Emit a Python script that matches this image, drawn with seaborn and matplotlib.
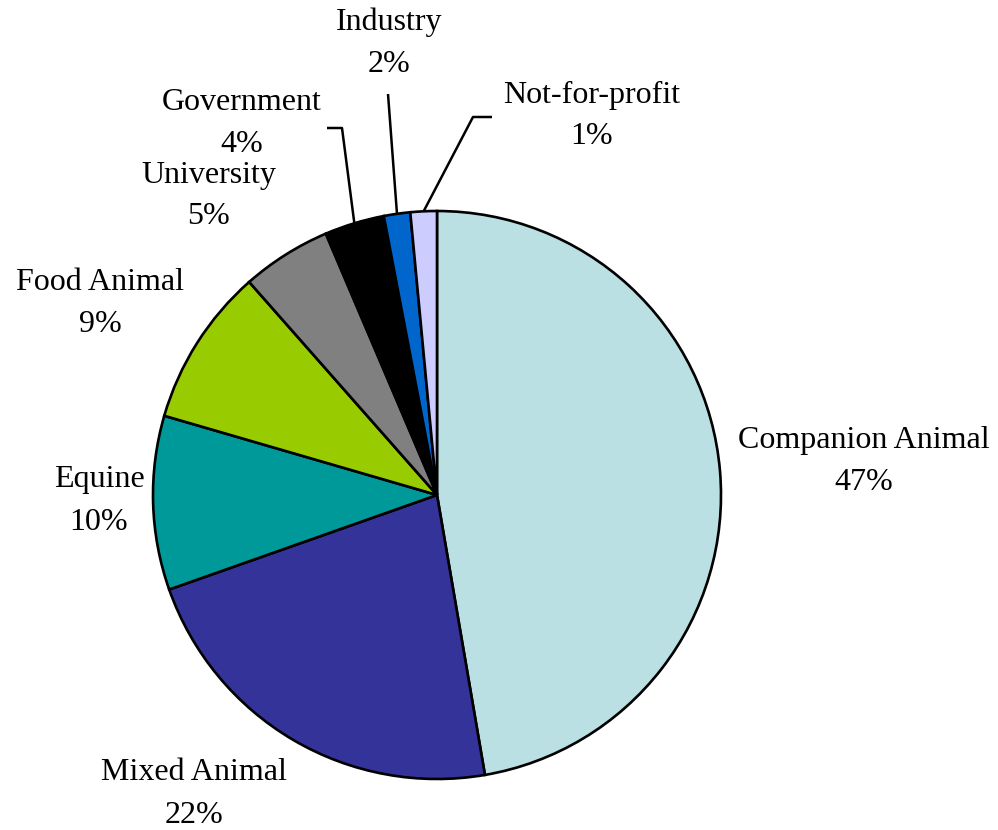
import numpy as np
import matplotlib
matplotlib.use("Agg")
import matplotlib.pyplot as plt
import seaborn as sns

categories = ["Companion Animal", "Mixed Animal", "Equine", "Food Animal",
              "University", "Government", "Industry", "Not-for-profit"]
shares = [47.3, 22.3, 9.9, 9.0, 5.1, 3.4, 1.5, 1.5]
pct_labels = ["47%", "22%", "10%", "9%", "5%", "4%", "2%", "1%"]
colors = ["#BBE0E3", "#333399", "#009999", "#99CC00",
          "#808080", "#000000", "#0066CC", "#CCCCFF"]

sns.set_theme(style="white")
plt.rcParams["font.family"] = ["Liberation Serif", "DejaVu Serif"]
plt.rcParams["text.color"] = "black"

W, H = 998, 830
fig = plt.figure(figsize=(W / 100, H / 100), dpi=100)
ax = fig.add_axes([0, 0, 1, 1])

cx, cy, r = 437, H - 495, 284
wedges, _ = ax.pie(shares, colors=colors, startangle=90, counterclock=False,
                   center=(cx, cy), radius=r,
                   wedgeprops=dict(edgecolor="black", linewidth=1.9))
ax.set_xlim(0, W)
ax.set_ylim(0, H)
ax.set_aspect("equal")
ax.axis("off")

# label centres (image pixels, y down)
label_pos = {
    "Companion Animal": (864, 441),
    "Mixed Animal": (194, 773),
    "Equine": (99, 480),
    "Food Animal": (100, 283),
    "University": (209, 175),
    "Government": (242, 103),
    "Industry": (389, 22),
    "Not-for-profit": (592, 95),
}
for name, pct in zip(categories, pct_labels):
    x, y = label_pos[name]
    ax.text(x, H - y, name, ha="center", va="center", fontsize=23, color="black")
    ax.text(x, H - y - 42, pct, ha="center", va="center", fontsize=23, color="black")

# leader lines: from label elbow to wedge mid-point on the rim
elbows = {
    "Government": [(327, 128), (342, 128)],
    "Industry": [(388, 94)],
    "Not-for-profit": [(492, 117), (473, 117)],
}
for w, name in zip(wedges, categories):
    if name not in elbows:
        continue
    mid = np.deg2rad((w.theta1 + w.theta2) / 2)
    ex, ey = cx + r * np.cos(mid), cy + r * np.sin(mid)
    pts = [(px, H - py) for px, py in elbows[name]] + [(ex, ey)]
    xs, ys = zip(*pts)
    ax.plot(xs, ys, color="black", linewidth=1.8, solid_capstyle="butt")

fig.savefig("out.png", dpi=100)
